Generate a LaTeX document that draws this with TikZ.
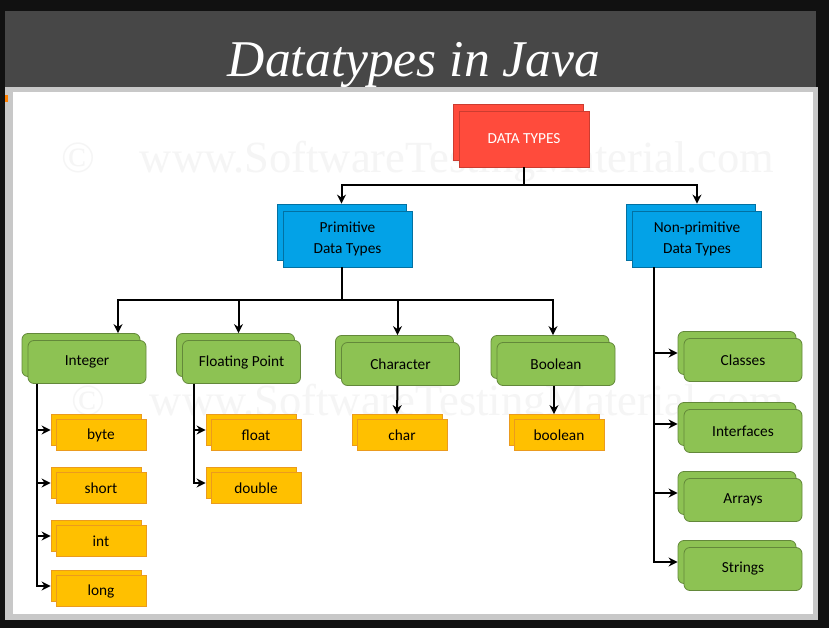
\documentclass[tikz,border=0pt]{standalone}
\usepackage{fontspec}
\setmainfont{Carlito}
\newfontfamily\titlefont{Liberation Serif}
\usetikzlibrary{shadows,arrows.meta}

\newlength\px
\setlength\px{0.03cm}

\definecolor{screenblack}{HTML}{111111}
\definecolor{titleband}{HTML}{474747}
\definecolor{framegray}{HTML}{C8C8C8}
\definecolor{dtred}{HTML}{FF4B3C}
\definecolor{primblue}{HTML}{03A2E7}
\definecolor{catgreen}{HTML}{8DC253}
\definecolor{typeorange}{HTML}{FFC000}
\definecolor{typeedge}{HTML}{EB9B1E}

\tikzset{
  box/.style={draw, line width=0.8\px, align=center, inner sep=0pt,
    font=\fontsize{13.1}{18.5}\selectfont, text=black},
  topbox/.style={box, fill=dtred, draw=dtred!80!black, text=white,
    minimum width=130\px, minimum height=56\px,
    copy shadow={shadow xshift=-6\px, shadow yshift=7\px}},
  midbox/.style={box, fill=primblue, draw=primblue!70!black,
    minimum width=129\px, minimum height=56\px,
    copy shadow={shadow xshift=-6\px, shadow yshift=7\px}},
  catbox/.style={box, fill=catgreen, draw=catgreen!70!black, rounded corners=6\px,
    minimum width=118\px, minimum height=43\px,
    copy shadow={shadow xshift=-6\px, shadow yshift=7\px}},
  typebox/.style={box, fill=typeorange, draw=typeedge,
    minimum width=90\px, minimum height=31\px,
    copy shadow={shadow xshift=-5\px, shadow yshift=5\px}},
  watermark/.style={text=black!4, font=\titlefont\fontsize{38}{40}\selectfont},
}

\begin{document}
\begin{tikzpicture}[x=0.03cm, y=-0.03cm, line width=0.6mm, ->, >={Stealth[length=2.7mm,width=2.7mm]}]

% screen
\fill[screenblack] (0,0) rectangle (829,628);
\fill[titleband] (5,11) rectangle (816,87);
\fill[framegray] (5,87) rectangle (818,620);
\fill[white] (13,92) rectangle (813,614);
\fill[orange] (5,95) rectangle (8,102);

\node[text=white, anchor=base, font=\titlefont\itshape\fontsize{44}{50}\selectfont] (title) at (414,77) {Datatypes in Java};

\node[watermark] (wm1) at (418,162) {\char"00A9\quad www.SoftwareTestingMaterial.com};
\node[watermark] (wm2) at (428,405) {\char"00A9\quad www.SoftwareTestingMaterial.com};

% boxes
\node[topbox] (dt) at (524,139) {DATA TYPES};
\node[midbox] (prim) at (347.5,239) {Primitive\\Data Types};
\node[midbox] (nonprim) at (697,239) {Non-primitive\\Data Types};

\node[catbox] (integer) at (87,362) {Integer};
\node[catbox] (floating) at (241.5,362) {Floating Point};
\node[catbox] (character) at (400.5,364) {Character};
\node[catbox] (boolean) at (556,364) {Boolean};

\node[catbox] (classes) at (743,360) {Classes};
\node[catbox] (interfaces) at (743,431) {Interfaces};
\node[catbox] (arrays) at (743,500) {Arrays};
\node[catbox] (strings) at (743,569) {Strings};

\node[typebox] (byte) at (101,435) {byte};
\node[typebox] (short) at (101,488) {short};
\node[typebox] (int) at (101,541) {int};
\node[typebox] (long) at (101,591) {long};
\node[typebox] (float) at (256,435) {float};
\node[typebox] (double) at (256,488) {double};
\node[typebox] (char) at (402,435) {char};
\node[typebox] (bool) at (559,435) {boolean};

% connectors
\draw (dt.south) -- ++(0,18) -| ([xshift=-6\px,yshift=7\px]prim.north);
\draw (dt.south) -- ++(0,18) -| ([yshift=7\px]nonprim.north);

\draw ([xshift=-6\px]prim.south) -- ++(0,33) -| ([xshift=31\px,yshift=7\px]integer.north);
\foreach \c in {floating,character,boolean}
  \draw ([xshift=-6\px]prim.south) -- ++(0,33) -| ([xshift=-3\px,yshift=7\px]\c.north);

\foreach \t in {byte,short,int,long}
  \draw ([xshift=9\px]integer.south west) |- ([xshift=-5\px,yshift=5\px]\t.west);
\foreach \t in {float,double}
  \draw ([xshift=12\px]floating.south west) |- ([xshift=-5\px,yshift=5\px]\t.west);

\draw ([xshift=-3\px]character.south) -- ([xshift=-5\px,yshift=5\px]char.north);
\draw ([xshift=-2\px]boolean.south) -- ([xshift=-5\px,yshift=5\px]bool.north);

\foreach \c in {classes,interfaces,arrays,strings}
  \draw ([xshift=22\px]nonprim.south west) |- ([xshift=-6\px,yshift=7\px]\c.west);

\end{tikzpicture}
\end{document}
